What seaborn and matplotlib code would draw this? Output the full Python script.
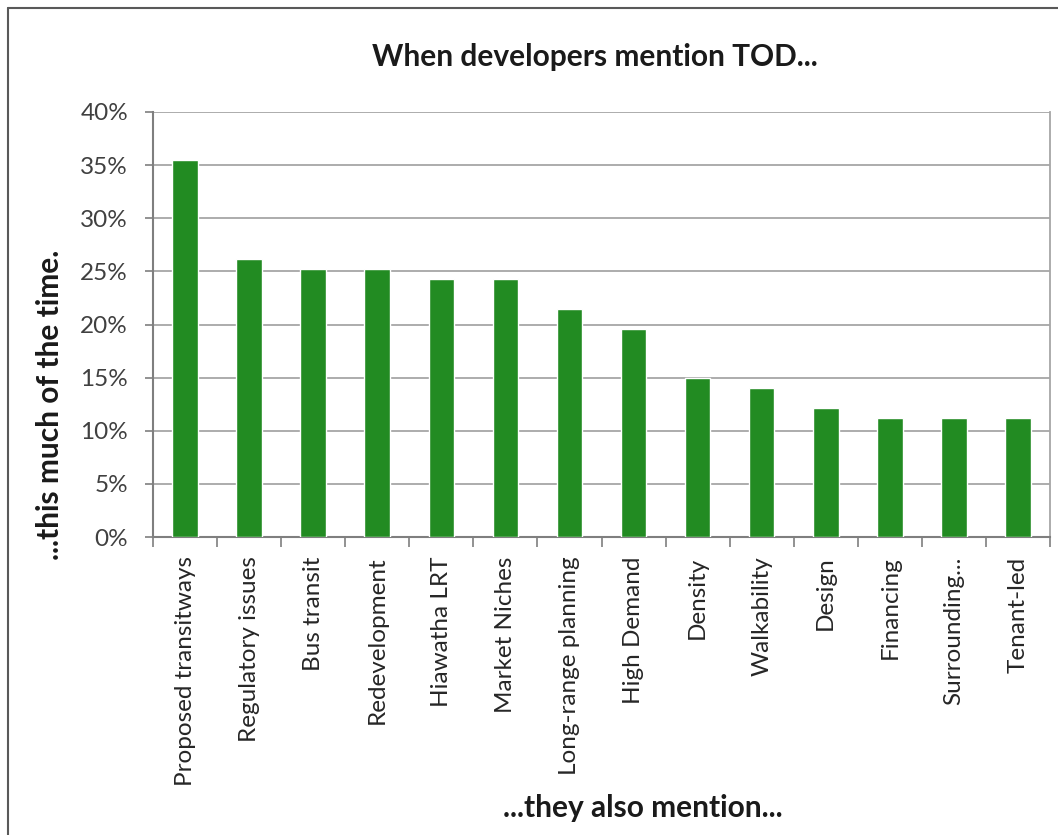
import matplotlib
matplotlib.use("Agg")
import matplotlib.pyplot as plt
from matplotlib.lines import Line2D
from matplotlib.ticker import FixedLocator, PercentFormatter
import seaborn as sns
import pandas as pd

# Topics mentioned alongside TOD, and share of mentions (%)
topics = [
    "Proposed transitways", "Regulatory issues", "Bus transit", "Redevelopment",
    "Hiawatha LRT", "Market Niches", "Long-range planning", "High Demand",
    "Density", "Walkability", "Design", "Financing", "Surrounding...", "Tenant-led",
]
share = [35.5, 26.2, 25.2, 25.2, 24.3, 24.3, 21.5, 19.6, 15.0, 14.0, 12.1, 11.2, 11.2, 11.2]
y_ticks = [0, 5, 10, 15, 20, 25, 30, 35, 40]

df = pd.DataFrame({"topic": topics, "share": share})

sns.set_theme(style="white")
plt.rcParams["font.family"] = ["Lato", "DejaVu Sans"]

fig = plt.figure(figsize=(10.58, 8.35), dpi=100)
ax = fig.add_axes([153 / 1058, 1 - 537 / 835, (1050 - 153) / 1058, (537 - 112) / 835])

sns.barplot(data=df, x="topic", y="share", color="#228B22", saturation=1,
            width=0.4, ax=ax, zorder=3)

ax.set_ylim(0, 40)
ax.set_xlim(-0.5, len(topics) - 0.5)
ax.yaxis.set_major_locator(FixedLocator(y_ticks))
ax.yaxis.set_major_formatter(PercentFormatter(decimals=0))
ax.yaxis.grid(True, color="#a6a6a6", linewidth=1.3, zorder=0)
ax.set_axisbelow(True)

for side in ["left", "bottom"]:
    ax.spines[side].set_color("#7f7f7f")
    ax.spines[side].set_linewidth(1.5)
ax.spines["right"].set_color("#a6a6a6")
ax.spines["right"].set_linewidth(1.3)
ax.spines["top"].set_visible(False)

ax.tick_params(axis="y", which="major", length=6, width=1.2, color="#7f7f7f",
               direction="out", left=True, labelsize=17.5, labelcolor="#404040", pad=12)
ax.tick_params(axis="x", which="major", length=0, labelsize=17.5,
               labelcolor="#262626", pad=14)
ax.set_xticks(range(len(topics)))
ax.set_xticklabels(topics, rotation=90, va="top", ha="center")
# tick marks sit between categories
ax.set_xticks([i + 0.5 for i in range(-1, len(topics))], minor=True)
ax.tick_params(axis="x", which="minor", length=7, width=1.2, color="#7f7f7f",
               direction="out", bottom=True)

ax.set_xlabel("")
ax.set_ylabel("")

fig.text(595 / 1058, 1 - 57 / 835, "When developers mention TOD...", ha="center",
         va="center", fontsize=21.5, fontweight="bold", color="#1a1a1a")
fig.text(50 / 1058, 1 - 405 / 835, "...this much of the time.", ha="center",
         va="center", rotation=90, fontsize=21.5, fontweight="bold", color="#1a1a1a")
fig.text(643 / 1058, 1 - 808 / 835, "...they also mention...", ha="center",
         va="center", fontsize=21.5, fontweight="bold", color="#1a1a1a")

# frame around the chart area
fig.add_artist(Line2D([8 / 1058, 8 / 1058], [0, 1 - 8 / 835], transform=fig.transFigure,
                      color="#595959", linewidth=1.5))
fig.add_artist(Line2D([8 / 1058, 1], [1 - 8 / 835, 1 - 8 / 835], transform=fig.transFigure,
                      color="#595959", linewidth=1.5))

fig.savefig("out.png", dpi=100, facecolor="white")
